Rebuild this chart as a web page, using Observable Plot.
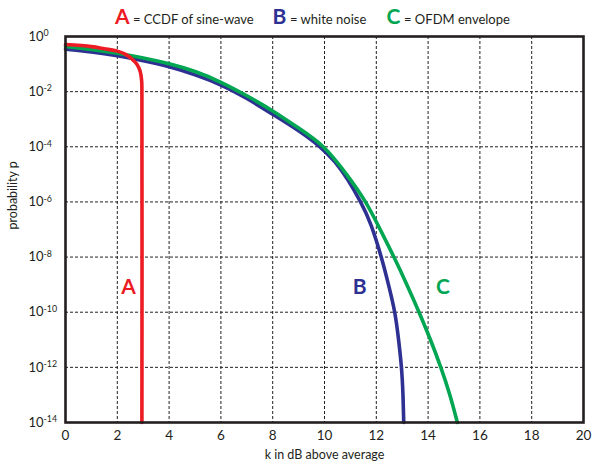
<!DOCTYPE html>
<html><head><meta charset="utf-8">
<script src="https://cdn.jsdelivr.net/npm/d3@7"></script>
<script src="https://cdn.jsdelivr.net/npm/@observablehq/plot@0.6"></script>
<style>
body{margin:0;background:#fff;}
#chart{width:592px;height:466px;}
</style>
</head><body>
<div id="chart"></div>
<script>
// ---- data ----
const xTicks = [0, 2, 4, 6, 8, 10, 12, 14, 16, 18, 20];
const xGrid = [2, 4, 6, 8, 10, 12, 14, 16, 18];
const yTicks = [1, 1e-2, 1e-4, 1e-6, 1e-8, 1e-10, 1e-12, 1e-14];
const yGrid = [1e-2, 1e-4, 1e-6, 1e-8, 1e-10, 1e-12];

// A: CCDF of sine-wave
const sineK = [0, 1, 1.5, 2, 2.3, 2.55, 2.75, 2.88, 2.94, 2.95, 2.95];
const sineP = [0.51, 0.43, 0.36, 0.295, 0.23, 0.158, 0.1, 0.056, 0.025, 6.3e-3, 1e-14];

// B: white noise
const noiseK = [0, 1, 2, 3, 4, 5, 6, 7, 8, 9, 9.82, 10.4, 10.9, 11.39, 11.8, 12.19, 12.47, 12.71, 12.86, 12.97, 13.03, 13.06];
const noiseP = [0.347, 0.275, 0.1995, 0.1318, 0.0794, 0.0407, 0.01738, 5.62e-3, 1.51e-3, 3.8e-4, 1e-4, 2.82e-5, 6.31e-6, 1e-6, 1.41e-7, 1e-8, 1e-9, 1e-10, 1e-11, 1e-12, 1e-13, 1e-14];

// C: OFDM envelope
const ofdmK = [0, 1, 2, 3, 4, 5, 6, 7, 8, 9, 9.95, 10.85, 11.58, 12.15, 12.68, 13.18, 13.65, 14.09, 14.49, 14.84, 15.13];
const ofdmP = [0.437, 0.339, 0.245, 0.166, 0.102, 0.0537, 0.0219, 7.08e-3, 2.0e-3, 4.79e-4, 1e-4, 1e-5, 1e-6, 1e-7, 1e-8, 1e-9, 1e-10, 1e-11, 1e-12, 1e-13, 1e-14];

// curve letters placed in the plot
const letterNames = ["A", "B", "C"];
const letterK = [2.43, 11.36, 14.57];
const letterP = [7.8e-10, 7.8e-10, 7.8e-10];

// legend
const legendLetters = ["A", "B", "C"];
const legendTexts = ["= CCDF of sine-wave", "= white noise", "= OFDM envelope"];

// ---- styles ----
const COLORS = {A: "#ED1C24", B: "#2E3192", C: "#00A651"};
const INK = "#231f20";
const FONT = "Lato, 'Open Sans', sans-serif";

const toRows = (ks, ps) => ks.map((k, i) => ({k, p: ps[i]}));
const sine = toRows(sineK, sineP);
const noise = toRows(noiseK, noiseP);
const ofdm = toRows(ofdmK, ofdmP);
const letters = letterNames.map((name, i) => ({name, k: letterK[i], p: letterP[i]}));

const svg = Plot.plot({
  width: 592,
  height: 466,
  marginLeft: 65,
  marginRight: 9,
  marginTop: 36,
  marginBottom: 44,
  style: {fontFamily: FONT, background: "#fff", color: INK},
  x: {domain: [0, 20]},
  y: {type: "log", domain: [1e-14, 1], axis: null},
  marks: [
    Plot.ruleX(xGrid, {stroke: INK, strokeWidth: 1, strokeDasharray: "3,2"}),
    Plot.ruleY(yGrid, {stroke: INK, strokeWidth: 1, strokeDasharray: "3,2"}),
    Plot.line(noise, {x: "k", y: "p", stroke: COLORS.B, strokeWidth: 3.6, curve: "natural"}),
    Plot.line(ofdm, {x: "k", y: "p", stroke: COLORS.C, strokeWidth: 3.6, curve: "natural"}),
    Plot.line(sine, {x: "k", y: "p", stroke: COLORS.A, strokeWidth: 3.6, curve: "catmull-rom"}),
    Plot.frame({stroke: INK, strokeWidth: 2.6}),
    Plot.axisX(xTicks, {tickSize: 0, tickPadding: 8, fontSize: 13.5, label: null, fill: INK}),
    Plot.text(yTicks, {y: d => d, frameAnchor: "left", dx: -37, textAnchor: "start",
      text: d => "10^" + Math.round(Math.log10(d)), fontSize: 13, fill: INK}),
    Plot.text(["k in dB above average"], {frameAnchor: "bottom", dy: 36, text: d => d, fontSize: 12.5, fill: INK}),
    Plot.text(["probability p"], {frameAnchor: "left", dx: -53, rotate: -90, text: d => d, fontSize: 12.5, fill: INK}),
    Plot.text(letters, {x: "k", y: "p", text: "name", fill: d => COLORS[d.name], fontSize: 21, fontWeight: "bold"})
  ]
});

// superscript exponents on y tick labels
d3.select(svg).selectAll("text").each(function () {
  const m = /^10\^(-?\d+)$/.exec(this.textContent);
  if (m) {
    this.textContent = "";
    const t = d3.select(this);
    t.append("tspan").text("10");
    t.append("tspan").attr("dy", "-0.5em").attr("font-size", "0.68em").text(m[1]);
  }
});

// legend on top
const legX = [115, 272.5, 386.5];
const legTX = [133, 290, 404];
const lg = d3.select(svg).append("g").attr("font-family", FONT).attr("text-anchor", "start");
legendLetters.forEach((L, i) => {
  lg.append("text").attr("x", legX[i]).attr("y", 23.5).attr("text-anchor", "start")
    .attr("font-size", 21).attr("font-weight", "bold").attr("fill", COLORS[L]).text(L);
  lg.append("text").attr("x", legTX[i]).attr("y", 23.5).attr("text-anchor", "start")
    .attr("font-size", 13).attr("fill", INK).text(legendTexts[i]);
});

document.getElementById("chart").appendChild(svg);
</script>
</body></html>
